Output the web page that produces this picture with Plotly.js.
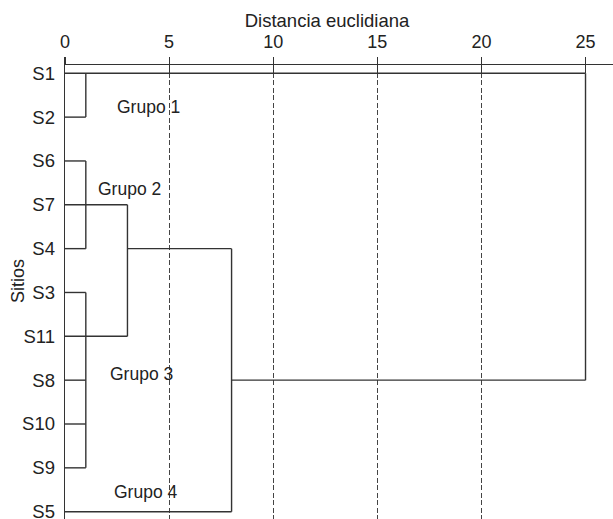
<!DOCTYPE html>
<html>
<head>
<meta charset="utf-8">
<script src="https://cdn.plot.ly/plotly-3.0.1.min.js"></script>
<style>html,body{margin:0;padding:0;background:#fff;}#chart{width:613px;height:519px;}</style>
</head>
<body>
<div id="chart"></div>
<script>
// Leaves in dendrogram order (top to bottom)
const leaves = ['S1', 'S2', 'S6', 'S7', 'S4', 'S3', 'S11', 'S8', 'S10', 'S9', 'S5'];

// Horizontal branches: row, start distance, end distance
const branchRow   = ['S1', 'S2', 'S6', 'S7', 'S4', 'S3', 'S11', 'S8', 'S10', 'S9', 'S5', 'S4', 'S8'];
const branchStart = [0, 0, 0, 0, 0, 0, 0, 0, 0, 0, 0, 3, 8];
const branchEnd   = [25, 1, 1, 3, 1, 1, 3, 1, 1, 1, 8, 8, 25];

// Vertical joins: distance, from row, to row
const joinDist = [1, 1, 3, 1, 8, 25];
const joinFrom = ['S1', 'S6', 'S7', 'S3', 'S4', 'S1'];
const joinTo   = ['S2', 'S4', 'S11', 'S9', 'S5', 'S8'];

// Axis ticks
const tickValues = [0, 5, 10, 15, 20, 25];
const gridValues = [5, 10, 15, 20];

// Group labels
const groupNames = ['Grupo 1', 'Grupo 2', 'Grupo 3', 'Grupo 4'];

const xs = [], ys = [];
for (let i = 0; i < branchRow.length; i++) {
  xs.push(branchStart[i], branchEnd[i], null);
  ys.push(branchRow[i], branchRow[i], null);
}
for (let i = 0; i < joinDist.length; i++) {
  xs.push(joinDist[i], joinDist[i], null);
  ys.push(joinFrom[i], joinTo[i], null);
}

const lineColor = '#333333';
const textColor = '#222222';
const FONT = 'Liberation Sans, Arial, sans-serif';

const trace = {
  type: 'scatter', mode: 'lines', x: xs, y: ys,
  line: { color: lineColor, width: 1.4 },
  hoverinfo: 'skip', showlegend: false, cliponaxis: false
};

const xr = [0, 26.32];
// group label positions (distance, row index)
const groupPos = [[4.03, 0.78], [3.1, 2.65], [3.65, 6.85], [3.9, 9.55]];

const annotations = groupNames.map((t, i) => ({
  text: t, xref: 'x', yref: 'y', x: groupPos[i][0], y: groupPos[i][1],
  showarrow: false, xanchor: 'center', yanchor: 'middle',
  font: { family: FONT, size: 17.5, color: textColor }
}));
annotations.push({
  text: 'Sitios', xref: 'paper', yref: 'paper', x: (18 - 65) / 548, y: (519 - 281) / 454,
  textangle: -90, showarrow: false, xanchor: 'center', yanchor: 'middle',
  font: { family: FONT, size: 18, color: textColor }
});

const layout = {
  width: 613, height: 519,
  margin: { l: 65, r: 0, t: 65, b: 0, pad: 0 },
  paper_bgcolor: '#ffffff', plot_bgcolor: '#ffffff',
  showlegend: false,
  title: {
    text: 'Distancia euclidiana',
    font: { family: FONT, size: 18.5, color: textColor },
    xref: 'container', yref: 'container', x: 327 / 613, xanchor: 'center',
    y: 1 - 20.5 / 519, yanchor: 'middle'
  },
  xaxis: {
    side: 'top', range: xr, tickmode: 'array', tickvals: tickValues,
    ticks: 'outside', ticklen: 7, tickwidth: 1.2, tickcolor: lineColor,
    showline: true, linecolor: lineColor, linewidth: 1.3,
    showgrid: false, zeroline: false,
    tickfont: { family: FONT, size: 18, color: textColor }, ticklabelstandoff: 2
  },
  xaxis2: {
    overlaying: 'x', side: 'top', range: xr, tickmode: 'array', tickvals: tickValues,
    ticks: 'inside', ticklen: 8, tickwidth: 1.2, tickcolor: lineColor,
    showticklabels: false, showline: false, showgrid: false, zeroline: false
  },
  xaxis3: {
    overlaying: 'x', side: 'top', range: xr, tickmode: 'array', tickvals: gridValues,
    ticks: '', showticklabels: false, showline: false, zeroline: false,
    showgrid: true, gridcolor: '#444444', gridwidth: 1, griddash: '5px,2.5px'
  },
  yaxis: {
    type: 'category', categoryorder: 'array', categoryarray: leaves,
    range: [10.167, -0.189], ticks: '', showgrid: false, zeroline: false,
    showline: true, linecolor: lineColor, linewidth: 1.3,
    tickfont: { family: FONT, size: 18.5, color: textColor }, ticklabelstandoff: 5
  },
  annotations: annotations
};

const dummy2 = { type: 'scatter', x: [0], y: ['S1'], xaxis: 'x2', mode: 'markers', marker: { opacity: 0 }, hoverinfo: 'skip', showlegend: false };
const dummy3 = { type: 'scatter', x: [0], y: ['S1'], xaxis: 'x3', mode: 'markers', marker: { opacity: 0 }, hoverinfo: 'skip', showlegend: false };

Plotly.newPlot('chart', [dummy3, dummy2, trace], layout, { staticPlot: true, displayModeBar: false });
</script>
</body>
</html>
